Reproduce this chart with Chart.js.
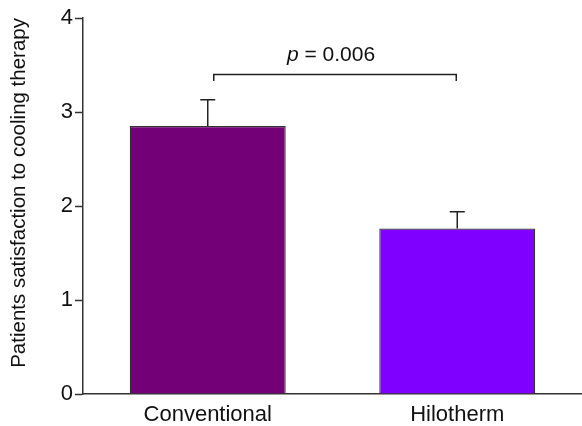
<!DOCTYPE html>
<html>
<head>
<meta charset="utf-8">
<script src="https://cdn.jsdelivr.net/npm/chart.js@4"></script>
<style>
  html, body { margin: 0; padding: 0; background: #fff; }
  #wrap { width: 582px; height: 426px; }
</style>
</head>
<body>
<div id="wrap"><canvas id="satChart" width="582" height="426"></canvas></div>
<script>
const categories = ["Conventional", "Hilotherm"];
const means = [2.85, 1.76];
const errors = [0.28, 0.18];
const barColors = ["#730076", "#7f00ff"];
const yTicks = [0, 1, 2, 3, 4];
const pText = "0.006";
const bracketLevel = 3.40; // y value of the comparison bracket

const fontFamily = "'Liberation Sans', Arial, sans-serif";

// error bars above each bar
const errorBars = {
    id: "errorBars",
    afterDatasetsDraw(chart) {
        const ctx = chart.ctx;
        const y = chart.scales.y;
        const meta = chart.getDatasetMeta(0);
        ctx.save();
        ctx.strokeStyle = "#222";
        ctx.lineWidth = 1.5;
        meta.data.forEach(function (bar, i) {
            const top = y.getPixelForValue(means[i] + errors[i]);
            ctx.beginPath();
            ctx.moveTo(bar.x, bar.y);
            ctx.lineTo(bar.x, top);
            ctx.moveTo(bar.x - 7.5, top);
            ctx.lineTo(bar.x + 7.5, top);
            ctx.stroke();
        });
        ctx.restore();
    }
};

// significance bracket with p value
const bracket = {
    id: "bracket",
    afterDraw(chart) {
        const ctx = chart.ctx;
        const x = chart.scales.x;
        const y = chart.scales.y;
        const x1 = x.getPixelForValue(0) + 6;
        const x2 = x.getPixelForValue(1) - 1;
        const yb = y.getPixelForValue(bracketLevel);
        const yt = y.getPixelForValue(bracketLevel - 0.07);
        ctx.save();
        ctx.strokeStyle = "#222";
        ctx.lineWidth = 1.5;
        ctx.beginPath();
        ctx.moveTo(x1, yt);
        ctx.lineTo(x1, yb);
        ctx.lineTo(x2, yb);
        ctx.lineTo(x2, yt);
        ctx.stroke();

        const ty = y.getPixelForValue(bracketLevel + 0.2);
        ctx.fillStyle = "#111";
        ctx.textBaseline = "middle";
        ctx.font = "italic 21px " + fontFamily;
        const pW = ctx.measureText("p").width;
        ctx.font = "21px " + fontFamily;
        const rest = " = " + pText;
        const rW = ctx.measureText(rest).width;
        const start = (x1 + x2) / 2 - (pW + rW) / 2 - 4;
        ctx.font = "italic 21px " + fontFamily;
        ctx.textAlign = "left";
        ctx.fillText("p", start, ty);
        ctx.font = "21px " + fontFamily;
        ctx.fillText(rest, start + pW, ty);
        ctx.restore();
    }
};

const ctx = document.getElementById("satChart").getContext("2d");
new Chart(ctx, {
    type: "bar",
    data: {
        labels: categories,
        datasets: [{
            data: means,
            backgroundColor: barColors,
            borderColor: "#333",
            borderWidth: 1.2,
            borderSkipped: "bottom",
            barPercentage: 0.625,
            categoryPercentage: 1.0
        }]
    },
    options: {
        responsive: false,
        animation: false,
        layout: { padding: { top: 18, right: -2, left: 0, bottom: 0 } },
        plugins: {
            legend: { display: false },
            tooltip: { enabled: false }
        },
        scales: {
            x: {
                grid: { display: false, drawTicks: false },
                border: { display: true, color: "#333", width: 1.5 },
                ticks: {
                    color: "#111",
                    font: { family: fontFamily, size: 22 },
                    padding: 8
                },
                afterFit(scale) { scale.height = 32; }
            },
            y: {
                min: 0,
                max: 4,
                afterBuildTicks(scale) {
                    scale.ticks = yTicks.map(v => ({ value: v }));
                },
                grid: { display: true, drawOnChartArea: false, drawTicks: true, tickLength: 8, tickColor: "#333", tickWidth: 1.5 },
                border: { display: true, color: "#333", width: 1.5 },
                ticks: {
                    color: "#111",
                    font: { family: fontFamily, size: 22 },
                    padding: 2
                },
                title: {
                    display: true,
                    align: "end",
                    text: "Patients satisfaction to cooling therapy",
                    color: "#111",
                    font: { family: fontFamily, size: 20.5 },
                    padding: { top: 7, bottom: 0 }
                },
                afterFit(scale) { scale.width = 83; }
            }
        }
    },
    plugins: [errorBars, bracket]
});
</script>
</body>
</html>
